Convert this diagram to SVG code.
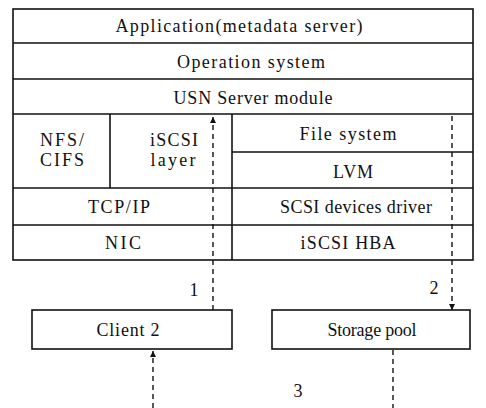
<svg xmlns="http://www.w3.org/2000/svg" width="486" height="408" viewBox="0 0 486 408">
<style>
.b{fill:#fff;stroke:#111;stroke-width:1.6}
.l{stroke:#111;stroke-width:1.6;fill:none}
.t{font-family:"Liberation Serif","Times New Roman",serif;font-size:18px;fill:#111;text-anchor:middle}
.d{stroke:#111;stroke-width:1.4;stroke-dasharray:5 4;fill:none}
</style>
<defs>
<marker id="ah" viewBox="0 0 10 10" refX="10" refY="5" markerWidth="6" markerHeight="8" orient="auto" markerUnits="userSpaceOnUse">
<path d="M0,0 L10,5 L0,10 z" fill="#111"/>
</marker>
</defs>
<rect width="486" height="408" fill="#fff"/>
<g id="server">
<rect class="b" x="13" y="9" width="460" height="251"/>
<line class="l" x1="13" y1="43" x2="473" y2="43"/>
<line class="l" x1="13" y1="79" x2="473" y2="79"/>
<line class="l" x1="13" y1="114" x2="473" y2="114"/>
<line class="l" x1="13" y1="188" x2="473" y2="188"/>
<line class="l" x1="13" y1="225" x2="473" y2="225"/>
<line class="l" x1="232" y1="152" x2="473" y2="152"/>
<line class="l" x1="110" y1="114" x2="110" y2="188"/>
<line class="l" x1="232" y1="114" x2="232" y2="260"/>
</g>
<g id="app"><text class="t" x="239" y="32" textLength="247">Application(metadata server)</text></g>
<g id="os"><text class="t" x="251" y="68" textLength="148">Operation system</text></g>
<g id="usn"><text class="t" x="253" y="104" textLength="159">USN Server module</text></g>
<g id="nfs"><text class="t" x="62" y="146" textLength="44">NFS/</text><text class="t" x="62" y="166" textLength="44">CIFS</text></g>
<g id="iscsi"><text class="t" x="174" y="146" textLength="48">iSCSI</text><text class="t" x="173" y="166" textLength="45">layer</text></g>
<g id="fs"><text class="t" x="348" y="140" textLength="97">File system</text></g>
<g id="lvm"><text class="t" x="353" y="178" textLength="40">LVM</text></g>
<g id="tcp"><text class="t" x="119" y="213" textLength="62">TCP/IP</text></g>
<g id="scsi"><text class="t" x="356" y="213" textLength="152">SCSI devices driver</text></g>
<g id="nic"><text class="t" x="123" y="249" textLength="36">NIC</text></g>
<g id="hba"><text class="t" x="348" y="249" textLength="95">iSCSI HBA</text></g>
<g id="client2"><rect class="b" x="32" y="310" width="200" height="39"/><text class="t" x="128" y="336" textLength="63">Client 2</text></g>
<g id="pool"><rect class="b" x="272" y="310" width="198" height="39"/><text class="t" x="372" y="336" textLength="89">Storage pool</text></g>
<g id="connectors">
<line class="d" x1="213" y1="310" x2="213" y2="117" marker-end="url(#ah)"/>
<line class="d" x1="452" y1="116" x2="452" y2="310" marker-end="url(#ah)"/>
<line class="d" x1="153" y1="408" x2="153" y2="351" marker-end="url(#ah)"/>
<line class="d" x1="393" y1="350" x2="393" y2="408"/>
<text class="t" x="194" y="296">1</text>
<text class="t" x="434" y="294">2</text>
<text class="t" x="298" y="397">3</text>
</g>
</svg>
